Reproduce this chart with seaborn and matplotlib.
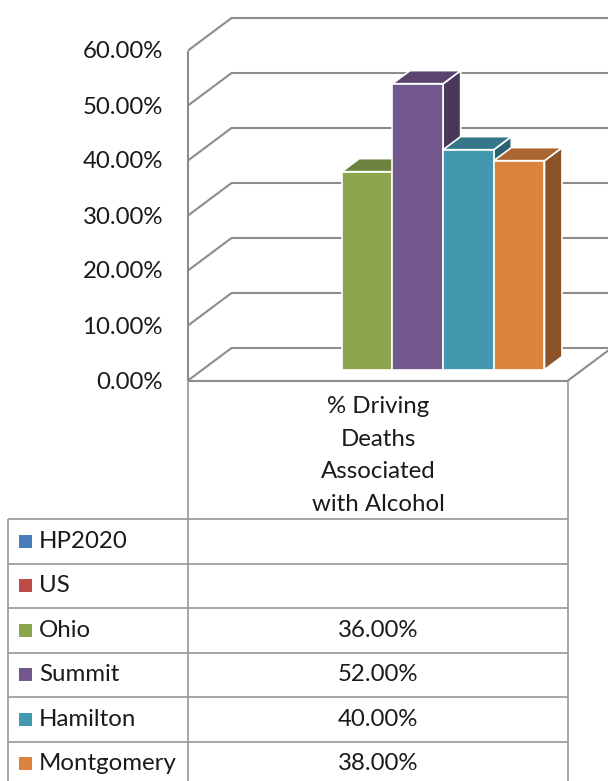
import numpy as np
import pandas as pd
import matplotlib
matplotlib.use("Agg")
import matplotlib.pyplot as plt
from matplotlib.patches import Polygon, Rectangle
from matplotlib.transforms import IdentityTransform
import matplotlib.colors as mcolors
import seaborn as sns

# ---- data -------------------------------------------------------------
measure = "% Driving Deaths Associated with Alcohol"
measure_lines = ["% Driving", "Deaths", "Associated", "with Alcohol"]
series = ["HP2020", "US", "Ohio", "Summit", "Hamilton", "Montgomery"]
values = [np.nan, np.nan, 36.0, 52.0, 40.0, 38.0]
series_colors = ["#4A7EBB", "#BE4B48", "#8BA64E", "#73588E", "#4398B0", "#DB823E"]
y_ticks = [0, 10, 20, 30, 40, 50, 60]
tick_labels = [f"{t:.2f}%" for t in y_ticks]

df = pd.DataFrame({"measure": measure, "series": series, "value": values})
df_bars = df.dropna(subset=["value"])
palette = dict(zip(series, series_colors))

# ---- style ------------------------------------------------------------
sns.set_style("white")
plt.rcParams["font.family"] = ["Lato", "DejaVu Sans"]
plt.rcParams["font.weight"] = "normal"
TEXT = "#1A1A1A"
GRID = "#8C8C8C"
TABLE = "#969696"
FS = 17.3

W, H, DPI = 608, 781, 100
fig = plt.figure(figsize=(W / DPI, H / DPI), dpi=DPI)
fig.patch.set_facecolor("white")

# oblique depth vector (pixels) and where the bar slab sits inside it
DEPTH = np.array([43.4, 32.4])
BAR_Z0, BAR_DZ = 0.334, 0.403
FRONT_X0, FRONT_BASE = 188.0, H - 380.5
PLANE_W, PLANE_H = 380.0, 330.0

# background layer in pixel coordinates
bg = fig.add_axes([0, 0, 1, 1], zorder=0)
bg.set_xlim(0, W)
bg.set_ylim(0, H)
bg.set_axis_off()

# bar layer: the front plane of the bar slab
bx0 = FRONT_X0 + BAR_Z0 * DEPTH[0]
by0 = FRONT_BASE + BAR_Z0 * DEPTH[1]
ax = fig.add_axes([bx0 / W, by0 / H, PLANE_W / W, PLANE_H / H], zorder=1)
ax.patch.set_alpha(0)

sns.barplot(data=df_bars, x="measure", y="value", hue="series",
            hue_order=series, palette=palette, width=0.8, saturation=1,
            edgecolor="white", linewidth=1.2, legend=False, ax=ax)
ax.set_xlim(-0.5, 0.5)
ax.set_ylim(y_ticks[0], y_ticks[-1])
ax.set_axis_off()


def plane_point(x, v, z):
    """Display position of category coord x, value v at depth z (0 front, 1 back)."""
    px, py = ax.transData.transform((x, v))
    return px + (z - BAR_Z0) * DEPTH[0], py + (z - BAR_Z0) * DEPTH[1]


# ---- walls, floor and gridlines --------------------------------------
gkw = dict(color=GRID, lw=1.5, solid_capstyle="butt", zorder=1)
for v, lab in zip(y_ticks, tick_labels):
    f = plane_point(-0.5, v, 0)
    b = plane_point(-0.5, v, 1)
    r = plane_point(0.5, v, 1)
    bg.plot([f[0], b[0]], [f[1], b[1]], **gkw)
    bg.plot([b[0], r[0]], [b[1], r[1]], **gkw)
    bg.text(f[0] - 25, f[1] - 1.5, lab, ha="right", va="center",
            fontsize=FS, color=TEXT)

p0, p1 = plane_point(-0.5, 0, 0), plane_point(-0.5, y_ticks[-1], 0)
bg.plot([p0[0], p1[0]], [p0[1], p1[1]], **gkw)
q0, q1 = plane_point(0.5, 0, 0), plane_point(0.5, 0, 1)
bg.plot([p0[0], q0[0]], [p0[1], q0[1]], **gkw)
bg.plot([q0[0], q1[0]], [q0[1], q1[1]], **gkw)

# ---- 3D faces on the bars --------------------------------------------
bars = sorted([p for p in ax.patches if np.isfinite(p.get_height()) and p.get_height() > 0],
              key=lambda p: p.get_x())
off = BAR_DZ * DEPTH
for i, p in enumerate(bars):
    x0, w, h = p.get_x(), p.get_width(), p.get_height()
    (xl, yb), (xr, yt) = ax.transData.transform([(x0, 0), (x0 + w, h)])
    base = np.array(mcolors.to_rgb(p.get_facecolor()))
    top_c = tuple(base * 0.78)
    side_c = tuple(base * 0.64)
    top = Polygon([(xl, yt), (xr, yt), (xr + off[0], yt + off[1]), (xl + off[0], yt + off[1])],
                  closed=True, facecolor=top_c, edgecolor="white", lw=1.2,
                  transform=IdentityTransform(), clip_on=False, zorder=2 + 2 * i)
    side = Polygon([(xr, yb), (xr + off[0], yb + off[1]), (xr + off[0], yt + off[1]), (xr, yt)],
                   closed=True, facecolor=side_c, edgecolor="white", lw=1.2,
                   transform=IdentityTransform(), clip_on=False, zorder=2 + 2 * i)
    ax.add_patch(side)
    ax.add_patch(top)
    p.set_zorder(3 + 2 * i)

# ---- data table -------------------------------------------------------
tkw = dict(color=TABLE, lw=1.2, solid_capstyle="butt", zorder=1)
col_l = plane_point(-0.5, 0, 0)
col_r = plane_point(0.5, 0, 0)
cx = plane_point(0, 0, 0)[0]
tbl_top = H - 519.0
row_h = 44.5
tbl_left = 8.0
n_rows = len(series)

bg.plot([col_l[0], col_l[0]], [col_l[1], -10], **tkw)
bg.plot([col_r[0], col_r[0]], [col_r[1], -10], **tkw)
bg.plot([tbl_left, tbl_left], [tbl_top, -10], **tkw)
for i in range(n_rows + 1):
    y = tbl_top - i * row_h
    bg.plot([tbl_left, col_r[0]], [y, y], **tkw)

# category header
for k, line in enumerate(measure_lines):
    bg.text(cx, H - 406.5 - k * 32.7, line, ha="center", va="center",
            fontsize=FS, color=TEXT)

# series rows
for i, (name, val, colr) in enumerate(zip(series, values, series_colors)):
    yc = tbl_top - (i + 0.5) * row_h
    bg.add_patch(Rectangle((18.5, yc - 6.5), 13, 13, facecolor=colr, edgecolor="none", zorder=2))
    bg.text(39, yc, name, ha="left", va="center", fontsize=FS, color=TEXT)
    if np.isfinite(val):
        bg.text(cx, yc, f"{val:.2f}%", ha="center", va="center", fontsize=FS, color=TEXT)

fig.savefig("out.png", dpi=DPI, facecolor="white")
